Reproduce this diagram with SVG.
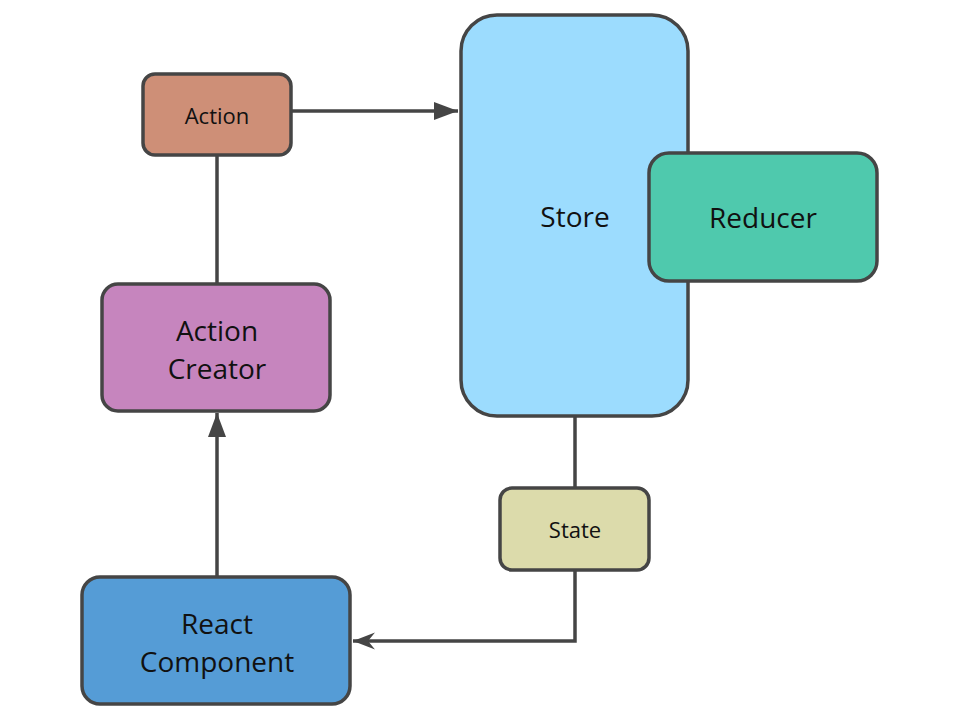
<svg xmlns="http://www.w3.org/2000/svg" width="960" height="720" viewBox="0 0 960 720">
<style>
.n{stroke:#454545;stroke-width:3.5}
.c{stroke:#454545;stroke-width:3.5;fill:none}
text{font-family:"Open Sans",Lato,"Liberation Sans",sans-serif;fill:#111;text-anchor:middle;dominant-baseline:central}
.s{font-size:22px}
.m{font-size:28px}
</style>
<defs>
<marker id="tri" markerWidth="26" markerHeight="20" refX="24" refY="10" orient="auto" markerUnits="userSpaceOnUse">
<path d="M0,1 L24,10 L0,19 Z" fill="#454545"/>
</marker>
<marker id="notch" markerWidth="26" markerHeight="20" refX="22" refY="10" orient="auto" markerUnits="userSpaceOnUse">
<path d="M0,1.5 L22,10 L0,18.5 L7,10 Z" fill="#454545"/>
</marker>
</defs>
<g id="connectors">
<path class="c" d="M292,111 H458" marker-end="url(#tri)"/>
<path class="c" d="M217,156 V284"/>
<path class="c" d="M217,577 V413" marker-end="url(#tri)"/>
<path class="c" d="M575,416 V488"/>
<path class="c" d="M575,570 V641 H353" marker-end="url(#notch)"/>
</g>
<g id="store">
<rect class="n" x="461" y="15" width="227" height="401" rx="36" fill="#9CDCFE"/>
<text class="m" x="575" y="216">Store</text>
</g>
<g id="reducer">
<rect class="n" x="649" y="153" width="228" height="128" rx="20" fill="#4FC9AD"/>
<text class="m" x="763" y="217">Reducer</text>
</g>
<g id="action">
<rect class="n" x="143" y="74" width="148" height="81" rx="12" fill="#CE8F77"/>
<text class="s" x="217" y="115">Action</text>
</g>
<g id="action-creator">
<rect class="n" x="102" y="284" width="228" height="127" rx="16" fill="#C685BE"/>
<text class="m" x="217" y="330">Action</text>
<text class="m" x="217" y="368">Creator</text>
</g>
<g id="react-component">
<rect class="n" x="82" y="577" width="268" height="127" rx="18" fill="#559CD6"/>
<text class="m" x="217" y="623">React</text>
<text class="m" x="217" y="661">Component</text>
</g>
<g id="state">
<rect class="n" x="500" y="488" width="149" height="82" rx="12" fill="#DCDBAB"/>
<text class="s" x="575" y="529">State</text>
</g>
</svg>
